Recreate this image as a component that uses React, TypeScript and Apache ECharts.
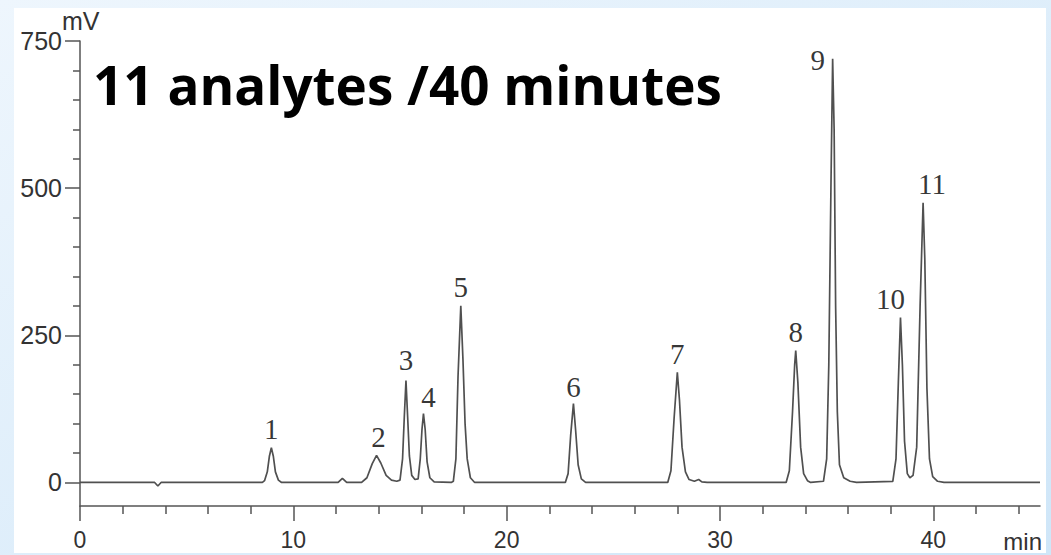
import React, { useEffect, useRef } from "react";
import * as echarts from "echarts";

// Chromatogram trace: [time (min), signal (mV)]
const trace: [number, number][] = [
  [0, 0], [3.5, 0], [3.65, -6], [3.8, 0],
  [8.55, 0], [8.65, 3], [8.78, 18], [8.88, 45], [8.97, 59], [9.06, 45], [9.16, 18], [9.3, 4], [9.45, 0],
  [12.1, 0], [12.3, 7], [12.5, 0],
  [13.2, 0], [13.45, 8], [13.7, 32], [13.9, 46], [14.1, 33], [14.35, 12], [14.6, 4], [14.85, 2],
  [15.0, 4], [15.12, 40], [15.2, 110], [15.28, 173], [15.36, 110], [15.44, 45], [15.55, 12], [15.7, 5],
  [15.85, 6], [15.95, 40], [16.03, 90], [16.1, 117], [16.18, 90], [16.27, 35], [16.4, 8], [16.6, 1], [17.4, 0],
  [17.5, 2], [17.62, 40], [17.72, 180], [17.85, 300], [17.95, 210], [18.05, 100], [18.15, 40], [18.3, 8], [18.5, 0],
  [22.75, 0], [22.88, 15], [23.0, 80], [23.13, 134], [23.23, 90], [23.35, 30], [23.5, 6], [23.7, 0],
  [27.55, 0], [27.7, 20], [27.85, 110], [28.0, 187], [28.1, 140], [28.22, 60], [28.38, 18], [28.55, 5], [28.8, 2], [29.0, 5], [29.15, 1], [29.4, 0],
  [33.1, 0], [33.25, 20], [33.4, 120], [33.5, 200], [33.55, 224], [33.65, 170], [33.78, 60], [33.92, 15], [34.1, 3], [34.25, 0],
  [34.85, 2], [35.0, 40], [35.1, 200], [35.2, 500], [35.28, 720], [35.35, 600], [35.42, 300], [35.5, 120], [35.6, 30], [35.8, 8], [36.1, 2], [36.4, 0],
  [38.1, 2], [38.25, 40], [38.36, 170], [38.46, 280], [38.55, 200], [38.65, 70], [38.78, 15], [38.9, 8],
  [39.05, 12], [39.22, 60], [39.38, 300], [39.52, 475], [39.6, 380], [39.7, 160], [39.82, 40], [39.97, 10], [40.2, 2], [40.5, 0],
  [45, 0],
];

// Peak labels
const peakNames = ["1", "2", "3", "4", "5", "6", "7", "8", "9", "10", "11"];
const peakTimes = [8.97, 13.9, 15.28, 16.1, 17.85, 23.13, 28.0, 33.55, 35.28, 38.46, 39.52];
const peakHeights = [59, 46, 173, 117, 300, 134, 187, 224, 720, 280, 475];

// Axis ticks
const xMajorTicks = [0, 10, 20, 30, 40];
const xMinorTicks = [2, 4, 6, 8, 12, 14, 16, 18, 22, 24, 26, 28, 32, 34, 36, 38, 42, 44];
const yMajorTicks = [0, 250, 500, 750];
const yMinorTicks = [50, 100, 150, 200, 300, 350, 400, 450, 550, 600, 650, 700];

const titleText = "11 analytes /40 minutes";

// label offsets (style)
const labelOffsets: [number, number][] = [
  [0, 0], [2, 0], [0, -2], [5, 2], [0, 0], [0, 2], [0, 0], [0, 0], [-15, 20], [-10, 0], [9, 0],
];

export default function App() {
  const ref = useRef<HTMLDivElement>(null);
  useEffect(() => {
    if (!ref.current) return;
    const chart = echarts.init(ref.current, undefined, { renderer: "svg" });
    const axisColor = "#555";
    const labelFont = "'Liberation Sans', Arial, sans-serif";
    const xBase = {
      type: "value" as const,
      min: 0,
      max: 45,
      splitLine: { show: false },
      axisLine: { onZero: false, lineStyle: { color: axisColor, width: 1.5 } },
    };
    const yBase = {
      type: "value" as const,
      min: -40,
      max: 750,
      splitLine: { show: false },
      axisLine: { onZero: false, lineStyle: { color: axisColor, width: 1.5 } },
    };
    chart.setOption({
      animation: false,
      backgroundColor: {
        type: "linear",
        x: 0, y: 0, x2: 1, y2: 1,
        colorStops: [
          { offset: 0, color: "#eef6fd" },
          { offset: 1, color: "#cfe6f8" },
        ],
      },
      grid: {
        left: 80,
        right: 11,
        top: 41,
        bottom: 49,
        containLabel: false,
        outerBoundsMode: "none",
      },
      xAxis: [
        {
          ...xBase,
          axisTick: {
            customValues: xMajorTicks,
            length: 15,
            lineStyle: { color: axisColor, width: 1.5 },
          },
          axisLabel: {
            customValues: xMajorTicks,
            margin: 22,
            fontSize: 23,
            color: "#333",
            fontFamily: labelFont,
          },
        },
        {
          ...xBase,
          position: "bottom",
          axisLine: { show: false, onZero: false },
          axisTick: {
            customValues: xMinorTicks,
            length: 8,
            lineStyle: { color: axisColor, width: 1.5 },
          },
          axisLabel: { show: false },
        },
      ],
      yAxis: [
        {
          ...yBase,
          axisTick: {
            customValues: yMajorTicks,
            length: 15,
            lineStyle: { color: axisColor, width: 1.5 },
          },
          axisLabel: {
            customValues: yMajorTicks,
            margin: 18,
            fontSize: 25,
            color: "#333",
            fontFamily: labelFont,
          },
        },
        {
          ...yBase,
          position: "left",
          axisLine: { show: false, onZero: false },
          axisTick: {
            customValues: yMinorTicks,
            length: 7,
            lineStyle: { color: axisColor, width: 1.5 },
          },
          axisLabel: { show: false },
        },
      ],
      graphic: [
        {
          type: "rect",
          z: -10,
          silent: true,
          shape: { x: 14, y: 8, width: 1032, height: 545 },
          style: { fill: "#ffffff" },
        },
        {
          type: "text",
          style: {
            text: titleText,
            x: 93,
            y: 84,
            verticalAlign: "middle",
            fill: "#000",
            font: "bold 53px 'Open Sans', Lato, sans-serif",
          },
        },
        {
          type: "text",
          style: {
            text: "mV",
            x: 62,
            y: 21,
            verticalAlign: "middle",
            fill: "#333",
            font: "25px 'Liberation Sans', Arial, sans-serif",
          },
        },
        {
          type: "text",
          style: {
            text: "min",
            x: 1042,
            y: 541,
            align: "right",
            verticalAlign: "middle",
            fill: "#333",
            font: "24px 'Liberation Sans', Arial, sans-serif",
          },
        },
      ],
      series: [
        {
          type: "line",
          data: trace,
          symbol: "none",
          lineStyle: { color: "#505050", width: 1.7 },
          xAxisIndex: 0,
          yAxisIndex: 0,
        },
        {
          type: "scatter",
          xAxisIndex: 0,
          yAxisIndex: 0,
          symbolSize: 0,
          silent: true,
          data: peakTimes.map((t, i) => ({
            value: [t, peakHeights[i]],
            name: peakNames[i],
            label: { offset: labelOffsets[i] },
          })),
          label: {
            show: true,
            position: "top",
            distance: 4,
            formatter: (p: any) => p.name,
            fontSize: 29,
            color: "#000",
            fontFamily: "'Liberation Serif', 'Times New Roman', serif",
          },
        },
      ],
    });
    return () => chart.dispose();
  }, []);
  return (
    <div
      ref={ref}
      style={{ position: "fixed", left: 0, top: 0, width: 1051, height: 555 }}
    />
  );
}
